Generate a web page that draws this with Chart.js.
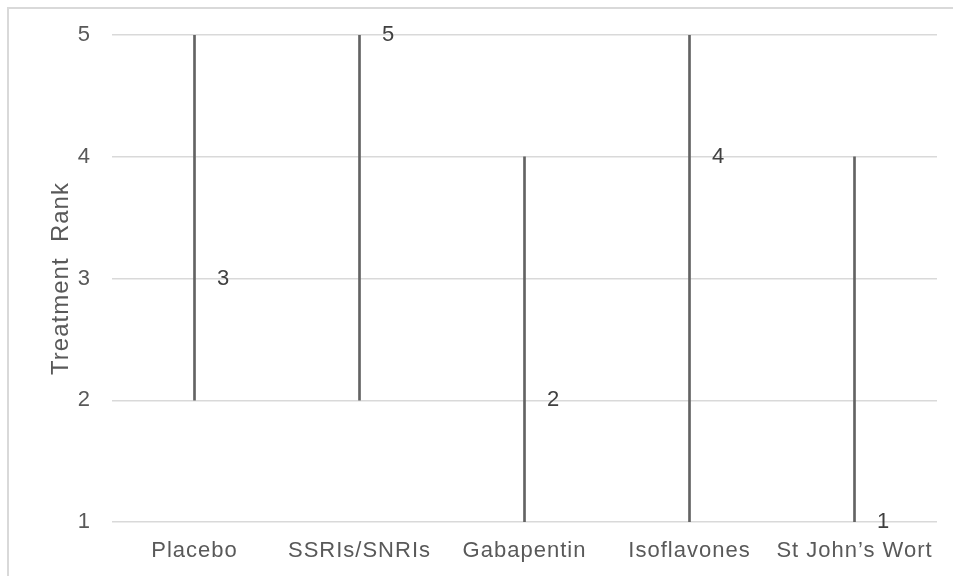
<!DOCTYPE html>
<html>
<head>
<meta charset="utf-8">
<script src="https://cdn.jsdelivr.net/npm/chart.js@4.4.0/dist/chart.umd.min.js"></script>
<style>
  html, body { margin: 0; padding: 0; background: #fff; }
  #wrap { width: 953px; height: 576px; }
</style>
</head>
<body>
<div id="wrap"><canvas id="rankChart" width="953" height="576"></canvas></div>
<script>
// Treatments and their rank ranges
const treatments = ["Placebo", "SSRIs/SNRIs", "Gabapentin", "Isoflavones", "St John\u2019s Wort"];
const rankLow = [2, 2, 1, 1, 1];
const rankHigh = [5, 5, 4, 5, 4];
const rankMedian = [3, 5, 2, 4, 1];
const rankTicks = [1, 2, 3, 4, 5];

const fontFamily = "'Liberation Sans', Arial, sans-serif";
const textColor = "#595959";
const lineColor = "#636363";
const gridColor = "#d9d9d9";

// Outer frame (left and top edges only), plus slightly spaced lettering
const framePlugin = {
  id: 'frame',
  beforeDraw(chart) {
    const ctx = chart.ctx;
    ctx.letterSpacing = "1px";
    ctx.save();
    ctx.strokeStyle = gridColor;
    ctx.lineWidth = 2;
    ctx.beginPath();
    ctx.moveTo(8, chart.height);
    ctx.lineTo(8, 8);
    ctx.lineTo(chart.width, 8);
    ctx.stroke();
    ctx.restore();
  }
};

// Median value written to the right of each range line
const medianLabels = {
  id: 'medianLabels',
  afterDatasetsDraw(chart) {
    const ctx = chart.ctx;
    const xs = chart.scales.x;
    const ys = chart.scales.y;
    ctx.save();
    ctx.font = "22px " + fontFamily;
    ctx.fillStyle = "#404040";
    ctx.textAlign = "center";
    ctx.textBaseline = "middle";
    rankMedian.forEach((v, i) => {
      ctx.fillText(String(v), xs.getPixelForValue(i) + 29, ys.getPixelForValue(v));
    });
    ctx.restore();
  }
};

const rangeData = rankLow.map((lo, i) => [lo, rankHigh[i]]);

new Chart(document.querySelector("#rankChart"), {
  type: 'bar',
  data: {
    labels: treatments,
    datasets: [{
      label: "Rank range",
      data: rangeData,
      backgroundColor: lineColor,
      borderWidth: 0,
      barThickness: 2
    }]
  },
  options: {
    responsive: false,
    animation: false,
    layout: { padding: { top: 35, right: 16, bottom: 0, left: 47 } },
    plugins: {
      legend: { display: false },
      tooltip: { enabled: false }
    },
    scales: {
      x: {
        grid: { display: false, drawTicks: false },
        border: { display: false },
        ticks: {
          color: textColor,
          font: { family: fontFamily, size: 22 },
          padding: 16,
          maxRotation: 0,
          autoSkip: false
        },
        afterFit(scale) { scale.height = 54; }
      },
      y: {
        min: 1,
        max: 5,
        afterBuildTicks(scale) { scale.ticks = rankTicks.map(v => ({ value: v })); },
        grid: { color: gridColor, lineWidth: 1.5, drawTicks: false },
        border: { display: false },
        ticks: {
          color: textColor,
          font: { family: fontFamily, size: 22 },
          padding: 21
        },
        title: {
          display: true,
          text: "Treatment  Rank",
          color: textColor,
          font: { family: fontFamily, size: 24 },
          padding: 0
        },
        afterFit(scale) { scale.width = 65; }
      }
    }
  },
  plugins: [framePlugin, medianLabels]
});
</script>
</body>
</html>
